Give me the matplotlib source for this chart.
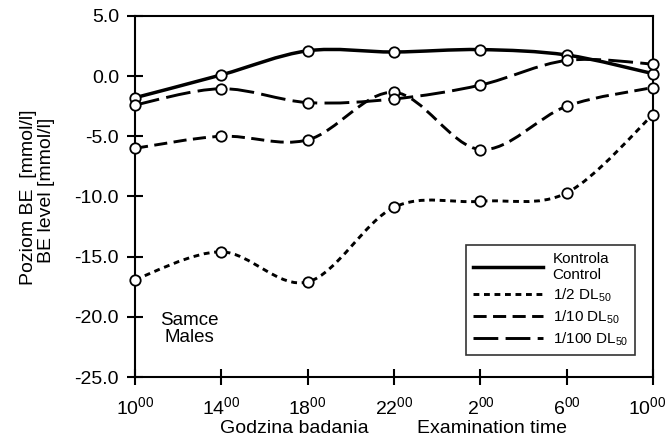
import matplotlib
matplotlib.use("Agg")
import matplotlib.pyplot as plt
import matplotlib.transforms as mtransforms
from matplotlib.path import Path
from matplotlib.patches import PathPatch
from matplotlib.lines import Line2D

plt.rcParams['font.family'] = ['Liberation Sans', 'DejaVu Sans']
plt.rcParams['mathtext.fontset'] = 'custom'
plt.rcParams['mathtext.rm'] = 'Liberation Sans'
plt.rcParams['mathtext.it'] = 'Liberation Sans'
plt.rcParams['mathtext.bf'] = 'Liberation Sans'
plt.rcParams['mathtext.default'] = 'regular'

hours = ['10', '14', '18', '22', '2', '6', '10']
kontrola = [-1.8, 0.1, 2.1, 2.0, 2.2, 1.75, 0.2]
dl_half = [-16.9, -14.6, -17.1, -10.9, -10.4, -9.7, -3.2]
dl_tenth = [-6.0, -5.0, -5.3, -1.35, -6.1, -2.5, -0.95]
dl_hundredth = [-2.4, -1.05, -2.2, -1.9, -0.75, 1.3, 1.0]
series_labels = ['Kontrola\nControl', '1/2 DL$_{50}$', '1/10 DL$_{50}$', '1/100 DL$_{50}$']
yticks = [5.0, 0.0, -5.0, -10.0, -15.0, -20.0, -25.0]

fig = plt.figure(figsize=(6.65, 4.41), dpi=100)
ax = fig.add_axes([0.203, 0.145, 0.779, 0.819])

def smooth_path(xs, ys):
    pts = list(zip(xs, ys))
    n = len(pts)
    verts = [pts[0]]
    codes = [Path.MOVETO]
    for i in range(n - 1):
        p0 = pts[i - 1] if i > 0 else pts[i]
        p1 = pts[i]
        p2 = pts[i + 1]
        p3 = pts[i + 2] if i + 2 < n else pts[i + 1]
        c1 = (p1[0] + (p2[0] - p0[0]) / 6.0, p1[1] + (p2[1] - p0[1]) / 6.0)
        c2 = (p2[0] - (p3[0] - p1[0]) / 6.0, p2[1] - (p3[1] - p1[1]) / 6.0)
        verts += [c1, c2, p2]
        codes += [Path.CURVE4] * 3
    return Path(verts, codes)

xs = list(range(len(hours)))
styles = [
    (kontrola, '-', 2.5),
    (dl_half, (0, (2.0, 1.6)), 2.1),
    (dl_tenth, (0, (4.5, 2.2)), 2.1),
    (dl_hundredth, (0, (8.5, 2.5)), 2.1),
]
handles = []
for (vals, ls, lw), lab in zip(styles, series_labels):
    patch = PathPatch(smooth_path(xs, vals), fill=False, edgecolor='black',
                      linewidth=lw, linestyle=ls, transform=ax.transData,
                      clip_on=False, zorder=2)
    ax.add_patch(patch)
    ax.plot(xs, vals, linestyle='none', marker='o', markersize=7.5,
            markerfacecolor='white', markeredgecolor='black',
            markeredgewidth=1.3, clip_on=False, zorder=3)
    handles.append(Line2D([], [], color='black', linewidth=lw, linestyle=ls, label=lab))

ax.set_xlim(0, 6)
ax.set_ylim(-25, 5)
ax.set_xticks(xs)
ax.set_xticklabels([h + '$^{00}$' for h in hours], fontsize=14)
ax.set_yticks(yticks)
ax.set_yticklabels(['%.1f' % v for v in yticks], fontsize=14)
ax.tick_params(axis='both', direction='inout', length=11, width=1.5, color='black')
ax.tick_params(axis='y', pad=6)
ax.tick_params(axis='x', pad=8)
for s in ax.spines.values():
    s.set_linewidth(1.5)

# keep the last tick label inside the picture
last = ax.get_xticklabels()[-1]
last.set_transform(last.get_transform() +
                   mtransforms.ScaledTranslation(-6 / 100.0, 0, fig.dpi_scale_trans))

fig.text(29 / 665, 1 - 197 / 441, 'Poziom BE  [mmol/l]', rotation=90, fontsize=14,
         ha='center', va='center')
fig.text(47 / 665, 1 - 190 / 441, 'BE level [mmol/l]', rotation=90, fontsize=14,
         ha='center', va='center')
fig.text(0.592, 0.008, 'Godzina badania         Examination time', fontsize=14,
         ha='center', va='bottom')
ax.text(0.105, 0.133, 'Samce\nMales', transform=ax.transAxes, fontsize=13.5,
        ha='center', va='center', linespacing=1.07)

leg = ax.legend(handles=handles, loc='lower right', bbox_to_anchor=(0.965, 0.061),
                borderaxespad=0, fontsize=11, frameon=True, fancybox=False,
                edgecolor='black', handlelength=4.6, labelspacing=0.3,
                borderpad=0.45, handletextpad=0.6)
leg.get_frame().set_linewidth(1.2)

fig.savefig('out.png', dpi=100)
